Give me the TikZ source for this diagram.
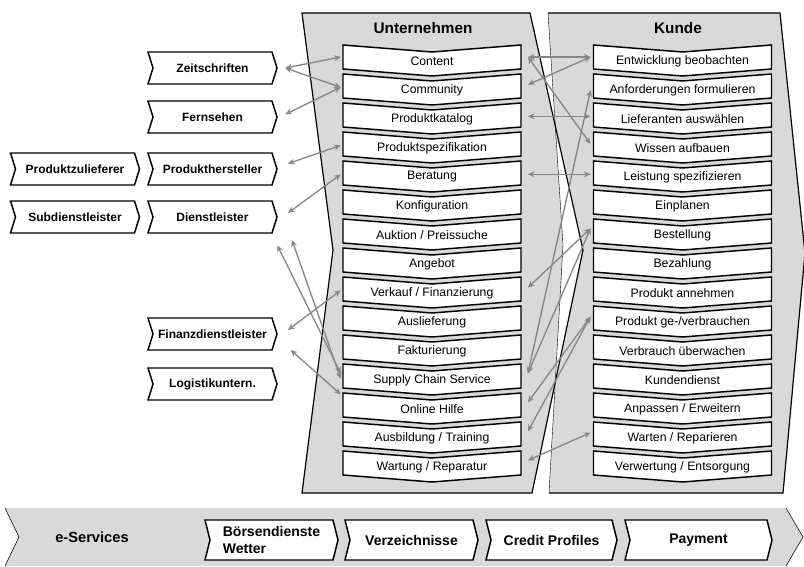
\documentclass[tikz,border=0pt]{standalone}
\usepackage{fontspec}
\setmainfont{Liberation Sans}
\usepackage{tikz}
\usetikzlibrary{arrows.meta}
\definecolor{panelgray}{HTML}{D9D9D9}
\definecolor{linkgray}{HTML}{878787}
\tikzset{
  boxline/.style={draw=black, fill=white, line width=1.1pt, line join=miter},
  utext/.style={minimum width=133.5pt, minimum height=18pt, inner sep=0pt, font=\fontsize{9.2}{10}\selectfont},
  ltext/.style={minimum width=96.75pt, minimum height=24pt, inner sep=0pt, font=\bfseries\fontsize{9}{10}\selectfont},
  btext/.style={minimum width=100pt, minimum height=30pt, inner sep=0pt, font=\bfseries\fontsize{10.5}{12.5}\selectfont},
  conn/.style={{Stealth[length=5pt,width=4.5pt]}-{Stealth[length=5pt,width=4.5pt]}, draw=linkgray, line width=1pt}
}
\newcommand{\vchev}[4]{%
  \filldraw[boxline] (#2-89,#3-16) -- (#2,#3-9) -- (#2+89,#3-16) -- (#2+89,#3+8) -- (#2,#3+15) -- (#2-89,#3+8) -- cycle;
  \node[utext] (#1) at (#2,#3) {#4};}
\newcommand{\hchev}[7][]{%
  \filldraw[boxline] (#3-#5,#4-#6) -- (#3+#5-5,#4-#6)
    .. controls (#3+#5-2,#4-#6/2) .. (#3+#5,#4) .. controls (#3+#5-2,#4+#6/2) .. (#3+#5-5,#4+#6)
    -- (#3-#5,#4+#6)
    .. controls (#3-#5+3,#4+#6/2) .. (#3-#5+5,#4) .. controls (#3-#5+3,#4-#6/2) .. (#3-#5,#4-#6) -- cycle;
  \node[#1] (#2) at (#3,#4) {#7};}

\begin{document}
\begin{tikzpicture}[x=0.75pt,y=-0.75pt]
  \useasboundingbox (0,0) rectangle (804,567);

  \fill[panelgray] (302,13) -- (530,13) -- (583,250) -- (532,493) -- (302,493) -- (333,250) -- cycle;
  \fill[panelgray] (548,13) -- (780,13) -- (805,253) -- (783,493) -- (549,493) -- (563,245) -- cycle;
  \fill[white, even odd rule] (530,13) -- (583,250) -- (532,493) -- (549,493) -- (563,245) -- (548,13) -- cycle;
  \draw[black, line width=0.9pt] (302,13) -- (530,13) -- (583,250) -- (532,493) -- (302,493) -- (333,250) -- cycle;
  \draw[black, line width=0.9pt] (549,493) -- (783,493) -- (805,253) -- (780,13) -- (548,13);
  \draw[black, line width=0.3pt] (548,13) -- (563,245) -- (549,493);

  \node[font=\bfseries\fontsize{11.5}{13}\selectfont] (hu) at (423,28) {Unternehmen};
  \node[font=\bfseries\fontsize{11.5}{13}\selectfont] (hk) at (678,28) {Kunde};

  \hchev[ltext]{zeit}{212.5}{68}{64.5}{16}{Zeitschriften}
  \hchev[ltext]{fern}{212.5}{117}{64.5}{16}{Fernsehen}
  \hchev[ltext]{prodz}{75}{169}{64.5}{16}{Produktzulieferer}
  \hchev[ltext]{prodh}{212.5}{169}{64.5}{16}{Produkthersteller}
  \hchev[ltext]{subd}{75}{217}{64.5}{16}{Subdienstleister}
  \hchev[ltext]{dienst}{212.5}{217}{64.5}{16}{Dienstleister}
  \hchev[ltext]{finanz}{212.5}{334}{64.5}{16}{Finanzdienstleister}
  \hchev[ltext]{logist}{212.5}{384}{64.5}{16}{Logistikuntern.}

  \vchev{u0}{432}{61}{Content}
  \vchev{u1}{432}{90}{Community}
  \vchev{u2}{432}{119}{Produktkatalog}
  \vchev{u3}{432}{148}{Produktspezifikation}
  \vchev{u4}{432}{177}{Beratung}
  \vchev{u5}{432}{206}{Konfiguration}
  \vchev{u6}{432}{235}{Auktion / Preissuche}
  \vchev{u7}{432}{264}{Angebot}
  \vchev{u8}{432}{293}{Verkauf / Finanzierung}
  \vchev{u9}{432}{322}{Auslieferung}
  \vchev{u10}{432}{351}{Fakturierung}
  \vchev{u11}{432}{380}{Supply Chain Service}
  \vchev{u12}{432}{409}{Online Hilfe}
  \vchev{u13}{432}{438}{Ausbildung / Training}
  \vchev{u14}{432}{467}{Wartung / Reparatur}

  \vchev{k0}{682.5}{61}{Entwicklung beobachten}
  \vchev{k1}{682.5}{90}{Anforderungen formulieren}
  \vchev{k2}{682.5}{119}{Lieferanten auswählen}
  \vchev{k3}{682.5}{148}{Wissen aufbauen}
  \vchev{k4}{682.5}{177}{Leistung spezifizieren}
  \vchev{k5}{682.5}{206}{Einplanen}
  \vchev{k6}{682.5}{235}{Bestellung}
  \vchev{k7}{682.5}{264}{Bezahlung}
  \vchev{k8}{682.5}{293}{Produkt annehmen}
  \vchev{k9}{682.5}{322}{Produkt ge-/verbrauchen}
  \vchev{k10}{682.5}{351}{Verbrauch überwachen}
  \vchev{k11}{682.5}{380}{Kundendienst}
  \vchev{k12}{682.5}{409}{Anpassen / Erweitern}
  \vchev{k13}{682.5}{438}{Warten / Reparieren}
  \vchev{k14}{682.5}{467}{Verwertung / Entsorgung}

  \fill[panelgray] (5,508) -- (786,508) -- (803,537) -- (786,566) -- (5,566) -- (19,537) -- cycle;
  \draw[black, line width=0.4pt] (5,508) -- (19,537) -- (5,566);
  \draw[black, line width=0.4pt] (786,508) -- (803,537) -- (786,566);
  \node[font=\bfseries\fontsize{11}{13}\selectfont] (eserv) at (92,537) {e-Services};
  \hchev[btext, align=left]{boerse}{271.5}{540}{66.5}{20}{Börsendienste\\Wetter}
  \hchev[btext]{verz}{411.5}{540}{66.5}{20}{Verzeichnisse}
  \hchev[btext]{credit}{551.5}{540}{65.5}{20}{Credit Profiles}
  \hchev[btext, minimum width=110pt]{pay}{698.5}{540}{73.5}{20}{Payment}

  \draw[conn] ([xshift=6pt]zeit.east) -- ([xshift=-1.5pt,yshift=3pt]u0.west);
  \draw[conn] ([xshift=6pt]zeit.east) -- ([xshift=-1.5pt,yshift=2pt]u1.west);
  \draw[conn] ([xshift=6pt,yshift=2pt]fern.east) -- ([xshift=-1.5pt,yshift=2pt]u1.west);
  \draw[conn] ([xshift=8pt,yshift=4pt]prodh.east) -- ([xshift=-1.5pt,yshift=2pt]u3.west);
  \draw[conn] ([xshift=8pt,yshift=3pt]dienst.east) -- ([xshift=-1.5pt,yshift=2pt]u4.west);
  \draw[conn] ([yshift=-9pt]dienst.south east) -- ([xshift=-1.5pt,yshift=5pt]u11.west);
  \draw[conn] ([xshift=11pt,yshift=-5pt]dienst.south east) -- ([xshift=-1.5pt,yshift=1pt]u11.west);
  \draw[conn] ([xshift=8pt,yshift=3pt]finanz.east) -- ([xshift=-1.5pt,yshift=2pt]u8.west);
  \draw[conn] ([xshift=10pt,yshift=-12pt]finanz.east) -- ([xshift=-1.5pt,yshift=11pt]u12.west);

  \draw[conn] ([xshift=5pt,yshift=3pt]u0.east) -- ([xshift=-2pt,yshift=3pt]k0.west);
  \draw[conn] ([xshift=5pt,yshift=4pt]u1.east) -- ([xshift=-2pt,yshift=3pt]k0.west);
  \draw[conn] ([xshift=5pt,yshift=3pt]u0.east) -- ([xshift=-2pt,yshift=3pt]k3.west);
  \draw[conn] ([xshift=5pt,yshift=2pt]u2.east) -- ([xshift=-2pt,yshift=2pt]k2.west);
  \draw[conn] ([xshift=5pt,yshift=2pt]u4.east) -- ([xshift=-2pt,yshift=2pt]k4.west);
  \draw[conn] ([xshift=5pt,yshift=5pt]u11.east) -- ([xshift=-2pt]k1.west);
  \draw[conn] ([xshift=5pt,yshift=4pt]u8.east) -- ([xshift=-2pt,yshift=5pt]k6.west);
  \draw[conn] ([xshift=5pt,yshift=5pt]u11.east) -- ([xshift=-2pt,yshift=5pt]k6.west);
  \draw[conn] ([xshift=5pt,yshift=5pt]u12.east) -- ([xshift=-2pt,yshift=4pt]k9.west);
  \draw[conn] ([xshift=5pt,yshift=5pt]u13.east) -- ([xshift=-2pt,yshift=4pt]k9.west);
  \draw[conn] ([xshift=5pt,yshift=5pt]u14.east) -- ([xshift=-2pt,yshift=4pt]k13.west);
\end{tikzpicture}
\end{document}
